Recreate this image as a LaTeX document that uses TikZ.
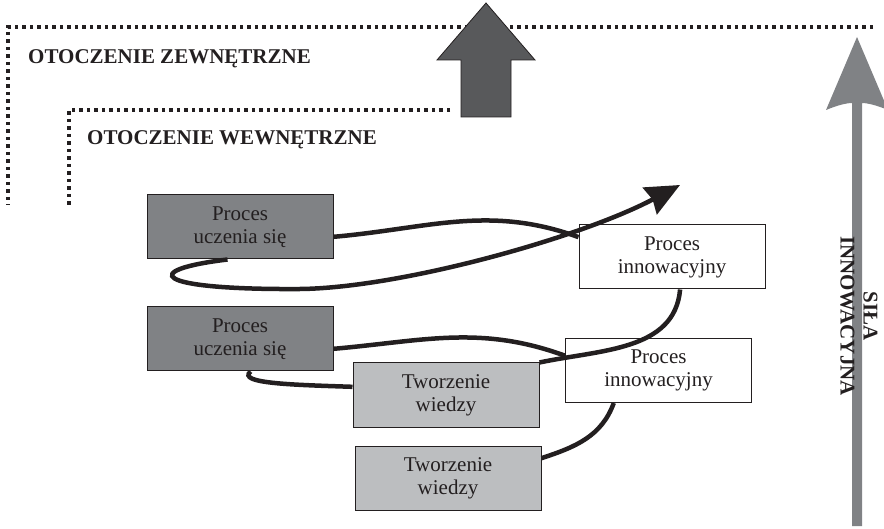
\documentclass[tikz,border=0pt]{standalone}
\usepackage{fontspec}
\setmainfont{Liberation Serif}
\usetikzlibrary{arrows.meta, calc}
\definecolor{darkbox}{HTML}{808285}
\definecolor{lightbox}{HTML}{BCBEC0}
\definecolor{darkarrow}{HTML}{58595B}
\definecolor{inkblack}{HTML}{231F20}
\tikzset{box/.style = {draw=inkblack, line width=1pt, minimum width=186pt, minimum height=64pt, inner sep=0pt, align=center, font=\fontsize{21}{23}\selectfont, text=inkblack}}
\tikzset{learnbox/.style = {box, fill=darkbox}, knowbox/.style = {box, fill=lightbox}, innobox/.style = {box, fill=white}}
\tikzset{flow/.style = {draw=inkblack, line width=4.5pt}}
\tikzset{border/.style = {draw=inkblack, line width=3.5pt, dash pattern=on 3.5pt off 4pt}}
\tikzset{envlabel/.style = {font=\bfseries\fontsize{21}{23}\selectfont, text=inkblack, inner sep=0pt}}

\begin{document}
\begin{tikzpicture}[x=1pt, y=1pt]
\useasboundingbox (0,0) rectangle (884,528);
% environment borders
\draw [border] (873,501) -- (8,501) -- (8,323);
\draw [border] (450,418) -- (69,418) -- (69,323);
\node [envlabel, anchor=base west] (outer) at (28,464) {OTOCZENIE ZEWNĘTRZNE};
\node [envlabel, anchor=base west] (inner) at (87,383) {OTOCZENIE WEWNĘTRZNE};
% big arrow out of the firm
\filldraw [fill=darkarrow, draw=inkblack, line width=0.8pt] (486,525) -- (535,468) -- (511,468) -- (511,411) -- (461,411) -- (461,468) -- (437,468) -- cycle;
% innovative force
\begin{scope}
\clip (800,0) rectangle (884,528);
\fill [darkbox] (857,491) -- (888,418) .. controls (876,423) and (867,425) .. (862,425) -- (862,2) -- (852,2) -- (852,425) .. controls (847,425) and (838,423) .. (826,418) -- cycle;
\end{scope}
\node [envlabel, align=center, rotate=-90] (force) at (859,212) {SIŁA\\INNOWACYJNA};
% boxes
\node [learnbox] (l1) at (240,301) {Proces\\uczenia się};
\node [learnbox] (l2) at (240,189) {Proces\\uczenia się};
\node [innobox] (i1) at (672,271) {Proces\\innowacyjny};
\node [innobox] (i2) at (658.5,157.5) {Proces\\innowacyjny};
\node [knowbox] (t1) at (446,133) {Tworzenie\\wiedzy};
\node [knowbox] (t2) at (448,50) {Tworzenie\\wiedzy};
\coordinate (tip) at (680,343);
% spiral
\draw [flow] (t2.12) to[out=18, in=-110] (i2.216);
\draw [flow] (i2.171) to[out=160, in=5] (l2.-6);
\draw [flow] (l2.-72) .. controls +(-14,-12) and +(-60,2) .. (t1.175);
\draw [flow] (t1.north east) to[out=12, in=-95] (i1.284);
\draw [flow] (i1.168) to[out=160, in=5] (l1.-6);
\draw [flow, -{Stealth[length=34pt, width=30pt, inset=3pt]}] (l1.249) .. controls (140,258) and (150,238) .. (300,239) .. controls (400,240) and (580,290) .. (tip);
\end{tikzpicture}
\end{document}
